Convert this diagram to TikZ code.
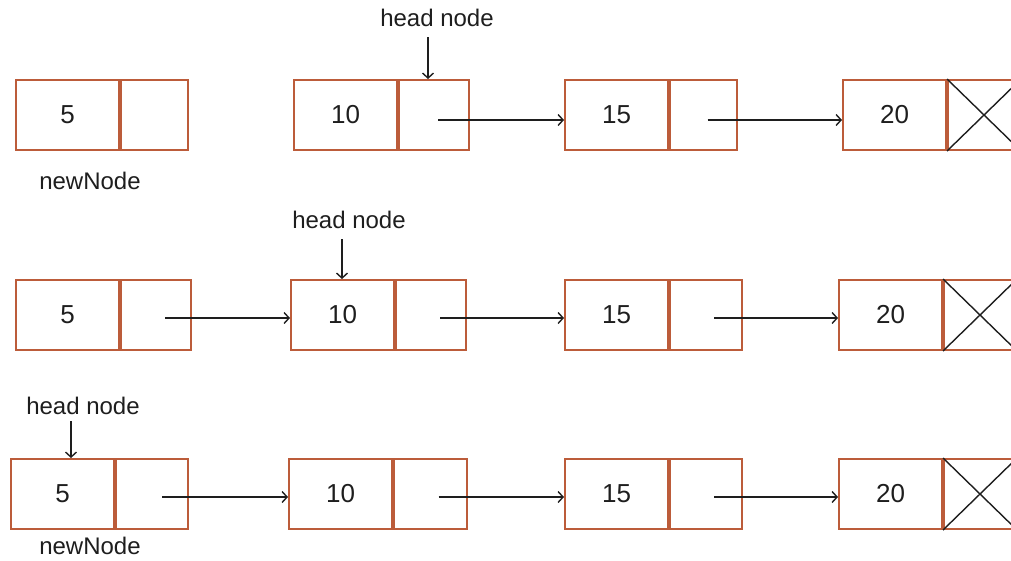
\documentclass[tikz,border=0pt]{standalone}
\usepackage{fontspec}
\setmainfont{Liberation Sans}
\usetikzlibrary{arrows.meta}
\definecolor{boxline}{RGB}{188,92,58}
\definecolor{ink}{RGB}{30,30,30}
\begin{document}
\begin{tikzpicture}[x=1pt,y=-1pt,
  cell/.style={draw=boxline,line width=2pt,minimum height=70pt,inner sep=0pt,anchor=west,text=ink},
  datacell/.style={cell,minimum width=103pt,font=\fontsize{26}{26}\selectfont},
  ptrcell/.style={cell,minimum width=70pt},
  lbl/.style={inner sep=0pt,font=\fontsize{24}{24}\selectfont,text=ink},
  link/.style={draw=ink,line width=1.4pt,-{Straight Barb[length=5pt,width=11pt,line width=1.4pt]}},
  nil/.style={draw=ink,line width=1.4pt}]
\useasboundingbox (0,0) rectangle (1011,560);

% ---- row 1: the new node stands alone, head points at 10 ----
\node[datacell] (a5d)  at (15,115)  {5};
\node[ptrcell,minimum width=67pt] (a5p) at (a5d.east) {};
\node[datacell] (a10d) at (293,115) {10};
\node[ptrcell] (a10p) at (a10d.east) {};
\node[datacell] (a15d) at (564,115) {15};
\node[ptrcell,minimum width=67pt] (a15p) at (a15d.east) {};
\node[datacell] (a20d) at (842,115) {20};
\node[ptrcell,minimum width=72pt] (a20p) at (a20d.east) {};
\draw[nil] (a20p.north west) -- (a20p.south east) (a20p.south west) -- (a20p.north east);
\draw[link] ([shift={(4,5)}]a10p.center) -- ([shift={(0,5)}]a15d.west);
\draw[link] ([shift={(4,5)}]a15p.center) -- ([shift={(0,5)}]a20d.west);
\node[lbl] (h1) at (437,18) {head node};
\draw[link] ([shift={(-9,10)}]h1.south) -- ([xshift=-9]h1.south |- a10p.north);
\node[lbl] (n1) at (90,181) {newNode};

% ---- row 2: the new node is linked in front of 10 ----
\node[datacell] (b5d)  at (15,315)  {5};
\node[ptrcell] (b5p) at (b5d.east) {};
\node[datacell] (b10d) at (290,315) {10};
\node[ptrcell] (b10p) at (b10d.east) {};
\node[datacell] (b15d) at (564,315) {15};
\node[ptrcell,minimum width=72pt] (b15p) at (b15d.east) {};
\node[datacell] (b20d) at (838,315) {20};
\node[ptrcell,minimum width=72pt] (b20p) at (b20d.east) {};
\draw[nil] (b20p.north west) -- (b20p.south east) (b20p.south west) -- (b20p.north east);
\draw[link] ([shift={(9,3)}]b5p.center) -- ([shift={(0,3)}]b10d.west);
\draw[link] ([shift={(9,3)}]b10p.center) -- ([shift={(0,3)}]b15d.west);
\draw[link] ([shift={(8,3)}]b15p.center) -- ([shift={(0,3)}]b20d.west);
\node[lbl] (h2) at (349,220) {head node};
\draw[link] ([shift={(-7,10)}]h2.south) -- ([xshift=-7]h2.south |- b10d.north);

% ---- row 3: head moved to the new node ----
\node[datacell] (c5d)  at (10,494)  {5};
\node[ptrcell,minimum width=72pt] (c5p) at (c5d.east) {};
\node[datacell] (c10d) at (288,494) {10};
\node[ptrcell,minimum width=73pt] (c10p) at (c10d.east) {};
\node[datacell] (c15d) at (564,494) {15};
\node[ptrcell,minimum width=72pt] (c15p) at (c15d.east) {};
\node[datacell] (c20d) at (838,494) {20};
\node[ptrcell,minimum width=72pt] (c20p) at (c20d.east) {};
\draw[nil] (c20p.north west) -- (c20p.south east) (c20p.south west) -- (c20p.north east);
\draw[link] ([shift={(10,3)}]c5p.center) -- ([shift={(0,3)}]c10d.west);
\draw[link] ([shift={(8,3)}]c10p.center) -- ([shift={(0,3)}]c15d.west);
\draw[link] ([shift={(8,3)}]c15p.center) -- ([shift={(0,3)}]c20d.west);
\node[lbl] (h3) at (83,406) {head node};
\draw[link] ([shift={(-12,6)}]h3.south) -- ([xshift=-12]h3.south |- c5d.north);
\node[lbl] (n3) at (90,546) {newNode};
\end{tikzpicture}
\end{document}
